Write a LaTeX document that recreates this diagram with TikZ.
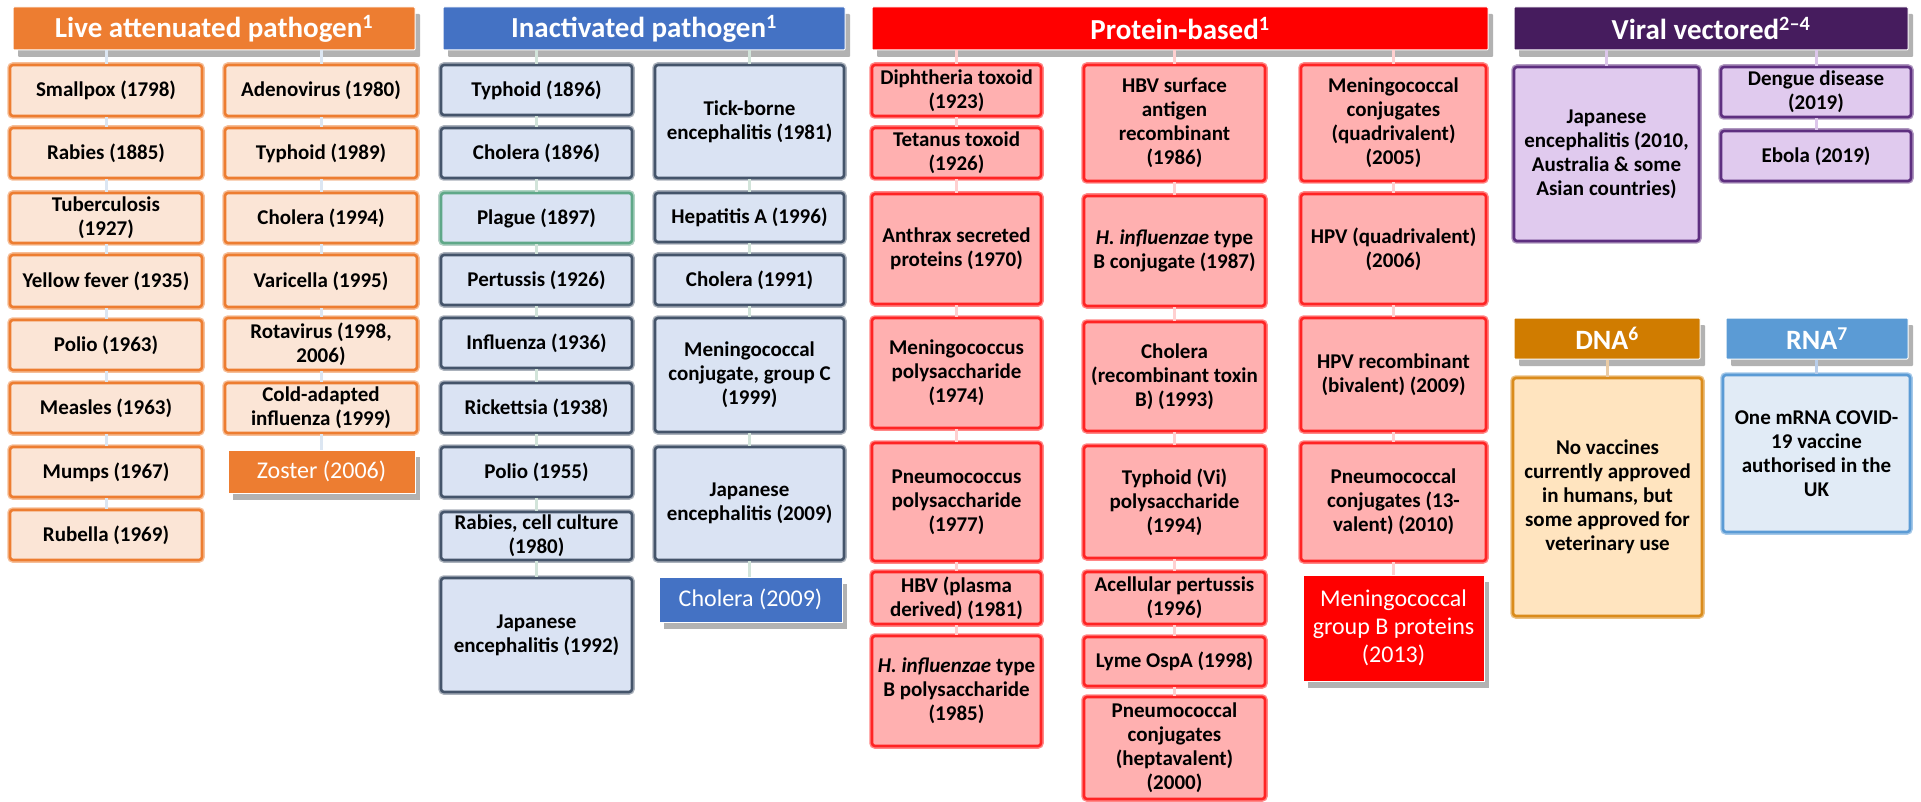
\documentclass[tikz,border=0pt]{standalone}
\usepackage{fontspec}
\setmainfont{Carlito}
\usetikzlibrary{shadows}
\definecolor{liveC}{HTML}{ED7D31}
\definecolor{liveL}{HTML}{FBE5D6}
\definecolor{liveK}{HTML}{DCE6F2}
\definecolor{inC}{HTML}{44546A}
\definecolor{inL}{HTML}{DAE3F3}
\definecolor{inH}{HTML}{4472C4}
\definecolor{inK}{HTML}{D2E4DA}
\definecolor{plagC}{HTML}{5FA888}
\definecolor{proC}{HTML}{FF2424}
\definecolor{proL}{HTML}{FFB0B0}
\definecolor{proH}{HTML}{FF0000}
\definecolor{proK}{HTML}{FFD0D0}
\definecolor{virC}{HTML}{5E2F80}
\definecolor{virL}{HTML}{E0CAEE}
\definecolor{virH}{HTML}{461C5E}
\definecolor{virK}{HTML}{DCC6EA}
\definecolor{dnaH}{HTML}{D07C00}
\definecolor{dnaC}{HTML}{DA8C1C}
\definecolor{dnaL}{HTML}{FFE4BF}
\definecolor{dnaK}{HTML}{EACBA4}
\definecolor{rnaH}{HTML}{5B9BD5}
\definecolor{rnaL}{HTML}{E1EBF6}
\definecolor{rnaK}{HTML}{B8CDEA}
\newcommand\bx[7]{%
  \pgfmathsetmacro\bxw{#5-#3}%
  \pgfmathsetmacro\bxh{#6-#4}%
  \pgfmathsetmacro\bxcx{(#3+#5)/2}%
  \pgfmathsetmacro\bxcy{(#4+#6)/2}%
  \node[#2,minimum width=\bxw pt,minimum height=\bxh pt] (#1) at (\bxcx,\bxcy) {#7};}
\tikzset{
  box/.style={rectangle, rounded corners=3pt, line width=2.6pt, inner sep=1pt, align=center,
    font=\bfseries\fontsize{21}{24}\selectfont, text=black},
  halo/.style={preaction={draw=#1, line width=5.5pt}},
  livebox/.style={box, halo=liveC!50, draw=liveC, fill=liveL},
  inbox/.style={box, halo=inC!45, draw=inC, fill=inL},
  probox/.style={box, halo=proC!55, draw=proC, fill=proL},
  virbox/.style={box, halo=virC!50, draw=virC, fill=virL},
  dnabox/.style={box, halo=dnaC!55, draw=dnaC, fill=dnaL},
  rnabox/.style={box, halo=rnaH!55, draw=rnaH, fill=rnaL},
  shad/.style={drop shadow={shadow xshift=5pt, shadow yshift=-7pt, opacity=0.3, fill=black}},
  hdr/.style={rectangle, rounded corners=1pt, draw=white, line width=1pt, inner sep=1pt, align=center,
    font=\bfseries\fontsize{29}{32}\selectfont, text=white, shad},
  smhdr/.style={hdr, font=\bfseries\fontsize{28}{30}\selectfont},
  emph/.style={rectangle, draw=white, line width=1pt, inner sep=1pt, align=center,
    font=\fontsize{24}{28}\selectfont, text=white, shad},
  conn/.style={line width=3pt, draw=#1}
}
\begin{document}
\begin{tikzpicture}[x=1pt,y=-1pt]
\useasboundingbox[fill=white] (0,0) rectangle (1921,802);
% ---------------- Live attenuated
\bx{hl}{hdr, fill=liveC}{13}{7}{415}{50}{Live attenuated pathogen\textsuperscript{1}}
\bx{l1}{livebox}{10}{65}{202}{116}{Smallpox (1798)}
\bx{l2}{livebox}{10}{128}{202}{178}{Rabies (1885)}
\bx{l3}{livebox}{10}{193}{202}{243}{Tuberculosis\\(1927)}
\bx{l4}{livebox}{10}{255}{202}{307}{Yellow fever (1935)}
\bx{l5}{livebox}{10}{320}{202}{370}{Polio (1963)}
\bx{l6}{livebox}{10}{383}{202}{433}{Measles (1963)}
\bx{l7}{livebox}{10}{447}{202}{497}{Mumps (1967)}
\bx{l8}{livebox}{10}{510}{202}{560}{Rubella (1969)}
\bx{r1}{livebox}{225}{65}{417}{116}{Adenovirus (1980)}
\bx{r2}{livebox}{225}{128}{417}{178}{Typhoid (1989)}
\bx{r3}{livebox}{225}{193}{417}{243}{Cholera (1994)}
\bx{r4}{livebox}{225}{255}{417}{307}{Varicella (1995)}
\bx{r5}{livebox}{225}{318}{417}{370}{Rotavirus (1998,\\2006)}
\bx{r6}{livebox}{225}{383}{417}{433}{Cold-adapted\\influenza (1999)}
\bx{r7}{emph, fill=liveC}{228}{450}{415}{493}{Zoster (2006)}
% ---------------- Inactivated
\bx{hi}{hdr, fill=inH}{443}{7}{845}{50}{Inactivated pathogen\textsuperscript{1}}
\bx{i1}{inbox}{441}{65}{632}{115}{Typhoid (1896)}
\bx{i2}{inbox}{441}{128}{632}{178}{Cholera (1896)}
\bx{i3}{inbox, halo=plagC!50, draw=plagC}{441}{193}{632}{243}{Plague (1897)}
\bx{i4}{inbox}{441}{255}{632}{305}{Pertussis (1926)}
\bx{i5}{inbox}{441}{318}{632}{368}{Influenza (1936)}
\bx{i6}{inbox}{441}{383}{632}{433}{Rickettsia (1938)}
\bx{i7}{inbox}{441}{447}{632}{497}{Polio (1955)}
\bx{i8}{inbox}{441}{512}{632}{560}{Rabies, cell culture\\(1980)}
\bx{i9}{inbox}{441}{578}{632}{692}{Japanese\\encephalitis (1992)}
\bx{j1}{inbox}{655}{65}{844}{178}{Tick-borne\\encephalitis (1981)}
\bx{j2}{inbox}{655}{193}{844}{242}{Hepatitis A (1996)}
\bx{j3}{inbox}{655}{255}{844}{305}{Cholera (1991)}
\bx{j4}{inbox}{655}{318}{844}{432}{Meningococcal\\conjugate, group C\\(1999)}
\bx{j5}{inbox}{655}{447}{844}{560}{Japanese\\encephalitis (2009)}
\bx{j6}{emph, fill=inH}{659}{577}{842}{622}{Cholera (2009)}
% ---------------- Protein-based
\bx{hp}{hdr, fill=proH}{872}{7}{1488}{50}{Protein-based\textsuperscript{1}}
\bx{p1}{probox}{872}{65}{1041}{116}{Diphtheria toxoid\\(1923)}
\bx{p2}{probox}{872}{128}{1041}{178}{Tetanus toxoid\\(1926)}
\bx{p3}{probox}{872}{194}{1041}{304}{Anthrax secreted\\proteins (1970)}
\bx{p4}{probox}{872}{318}{1041}{428}{Meningococcus\\polysaccharide\\(1974)}
\bx{p5}{probox}{872}{443}{1041}{561}{Pneumococcus\\polysaccharide\\(1977)}
\bx{p6}{probox}{872}{572}{1041}{624}{HBV (plasma\\derived) (1981)}
\bx{p7}{probox}{872}{636}{1041}{746}{\textit{H. influenzae} type\\B polysaccharide\\(1985)}
\bx{q1}{probox}{1084}{65}{1265}{181}{HBV surface\\antigen\\recombinant\\(1986)}
\bx{q2}{probox}{1084}{196}{1265}{306}{\textit{H. influenzae} type\\B conjugate (1987)}
\bx{q3}{probox}{1084}{322}{1265}{431}{Cholera\\(recombinant toxin\\B) (1993)}
\bx{q4}{probox}{1084}{446}{1265}{558}{Typhoid (Vi)\\polysaccharide\\(1994)}
\bx{q5}{probox}{1084}{572}{1265}{624}{Acellular pertussis\\(1996)}
\bx{q6}{probox}{1084}{637}{1265}{686}{Lyme OspA (1998)}
\bx{q7}{probox}{1084}{697}{1265}{799}{Pneumococcal\\conjugates\\(heptavalent)\\(2000)}
\bx{s1}{probox}{1301}{65}{1486}{181}{Meningococcal\\conjugates\\(quadrivalent)\\(2005)}
\bx{s2}{probox}{1301}{194}{1486}{304}{HPV (quadrivalent)\\(2006)}
\bx{s3}{probox}{1301}{318}{1486}{431}{HPV recombinant\\(bivalent) (2009)}
\bx{s4}{probox}{1301}{443}{1486}{561}{Pneumococcal\\conjugates (13-\\valent) (2010)}
\bx{s5}{emph, fill=proH}{1303}{575}{1484}{681}{Meningococcal\\group B proteins\\(2013)}
% ---------------- Viral vectored
\bx{hv}{hdr, fill=virH}{1514}{7}{1908}{50}{Viral vectored\textsuperscript{2--4}}
\bx{v1}{virbox}{1514}{67}{1699}{241}{Japanese\\encephalitis (2010,\\Australia \& some\\Asian countries)}
\bx{v2}{virbox}{1721}{67}{1911}{117}{Dengue disease\\(2019)}
\bx{v3}{virbox}{1721}{131}{1911}{181}{Ebola (2019)}
% ---------------- DNA / RNA
\bx{hd}{smhdr, fill=dnaH}{1514}{318}{1700}{359}{DNA\textsuperscript{6}}
\bx{d1}{dnabox}{1513}{378}{1702}{616}{No vaccines\\currently approved\\in humans, but\\some approved for\\veterinary use}
\bx{hr}{smhdr, fill=rnaH}{1726}{318}{1908}{359}{RNA\textsuperscript{7}}
\bx{r}{rnabox}{1723}{375}{1910}{532}{One mRNA COVID-\\19 vaccine\\authorised in the\\UK}
% ---------------- connectors
\foreach \a/\b in {hl/l1,hl/r1}
  \draw[conn=liveK] (\a.south -| \b.north) -- (\b.north);
\foreach \a/\b in {l1/l2,l2/l3,l3/l4,l4/l5,l5/l6,l6/l7,l7/l8,r1/r2,r2/r3,r3/r4,r4/r5,r5/r6,r6/r7}
  \draw[conn=liveK] (\a.south) -- (\a.south |- \b.north);
\foreach \a/\b in {hi/i1,hi/j1}
  \draw[conn=inK] (\a.south -| \b.north) -- (\b.north);
\foreach \a/\b in {i1/i2,i2/i3,i3/i4,i4/i5,i5/i6,i6/i7,i7/i8,i8/i9,j1/j2,j2/j3,j3/j4,j4/j5,j5/j6}
  \draw[conn=inK] (\a.south) -- (\a.south |- \b.north);
\foreach \a/\b in {hp/p1,hp/q1,hp/s1}
  \draw[conn=proK] (\a.south -| \b.north) -- (\b.north);
\foreach \a/\b in {p1/p2,p2/p3,p3/p4,p4/p5,p5/p6,p6/p7,q1/q2,q2/q3,q3/q4,q4/q5,q5/q6,q6/q7,s1/s2,s2/s3,s3/s4,s4/s5}
  \draw[conn=proK] (\a.south) -- (\a.south |- \b.north);
\foreach \a/\b in {hv/v1,hv/v2}
  \draw[conn=virK] (\a.south -| \b.north) -- (\b.north);
\draw[conn=virK] (v2.south) -- (v2.south |- v3.north);
\draw[conn=dnaK] (hd.south -| d1.north) -- (d1.north);
\draw[conn=rnaK] (hr.south -| r.north) -- (r.north);
\end{tikzpicture}
\end{document}
